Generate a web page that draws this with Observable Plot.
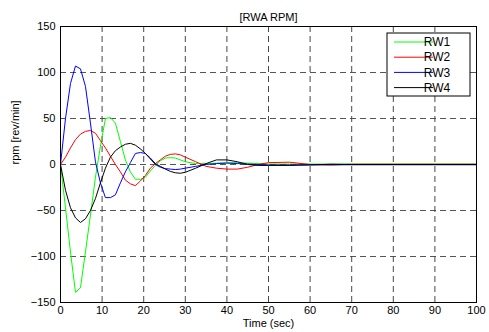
<!DOCTYPE html>
<html>
<head>
<meta charset="utf-8">
<script src="https://cdn.jsdelivr.net/npm/d3@7"></script>
<script src="https://cdn.jsdelivr.net/npm/@observablehq/plot@0.6"></script>
<style>
  html, body { margin: 0; padding: 0; background: #fff; }
  svg { font-family: "Liberation Sans", Arial, sans-serif; }
</style>
</head>
<body>
<div id="chart"></div>
<script>
const time = [0,1.2,2.4,3.6,4.8,6,7.2,8.4,9.6,10.8,12,13.2,14.4,15.6,16.8,18,19.2,20.4,21.6,22.8,24,25.2,26.4,27.6,28.8,30,32.5,35,37.5,40,42.5,45,47.5,50,55,60,65,70,80,90,100];
const rw1 = [0,-47,-95,-139,-134,-95,-55,-14,20,50, 51,45,25,5,-8,-16,-16,-14,-7,-1, 4,7,7.5,7,5,3, 1,1,1.5,2,2,1.5,1,0.5, 0.5,0.5,0.5,0.5,0.5,0.5,0.5];
const rw2 = [0,8,18,27,33,36,37,34,26,18, 9,0,-8,-17,-21,-23,-18,-12,-4,1, 5,9,11,11.5,10.5,8, 3,-2,-4,-5,-5,-3,0,2, 2.5,0,-0.5,0.3,0.3,0.3,0.3];
const rw3 = [0,50,88,107,104,85,45,3,-20,-36, -36,-33,-20,-8,2,12,13,12,6,0, -3,-4.5,-5,-5.5,-5,-4, -2,0,1,1.5,1,0.5,0,-0.5, -0.5,-0.3,-0.3,-0.3,-0.3,-0.3,-0.3];
const rw4 = [0,-28,-47,-58,-63,-59,-50,-37,-20,-4, 8,15,19,22,23,21,17,12,7,1, -2,-5,-7.5,-9,-9.5,-8.5, -4,1,5,5,3,0,-1,-1, -1,-0.5,0.3,0,0,0,0];
const seriesNames = ["RW1","RW2","RW3","RW4"];
const seriesColors = ["#00ff00","#ff0000","#0000ff","#000000"];
const xTicks = [0,10,20,30,40,50,60,70,80,90,100];
const yTicks = [-150,-100,-50,0,50,100,150];
const titleText = "[RWA RPM]";
const xLabel = "Time (sec)";
const yLabel = "rpm [rev/min]";

const seriesValues = [rw1, rw2, rw3, rw4];
const rows = seriesNames.flatMap((name, i) => time.map((t, j) => ({series: name, t, v: seriesValues[i][j]})));

const W = 489, H = 332;
const chart = Plot.plot({
  width: W, height: H,
  marginLeft: 60, marginRight: 13, marginTop: 26, marginBottom: 30,
  style: {fontFamily: '"Liberation Sans", Arial, sans-serif', fontSize: "11px", background: "#fff", color: "#000"},
  x: {domain: [0, 100], ticks: xTicks},
  y: {domain: [-150, 150], ticks: yTicks},
  color: {domain: seriesNames, range: seriesColors},
  marks: [
    Plot.gridX(xTicks.slice(1, -1), {stroke: "#333", strokeOpacity: 0.9, strokeDasharray: "6,4", strokeWidth: 1}),
    Plot.gridY(yTicks.slice(1, -1), {stroke: "#444", strokeOpacity: 0.9, strokeDasharray: "6,4", strokeWidth: 1}),
    Plot.line(rows, {x: "t", y: "v", z: "series", stroke: "series", strokeWidth: 1}),
    Plot.frame({stroke: "#000", strokeWidth: 1}),
    Plot.axisX(xTicks, {tickSize: 0, tickPadding: 4, label: null, fontSize: 11}),
    Plot.axisY(yTicks, {tickSize: 0, tickPadding: 5, label: null, fontSize: 11}),
    Plot.text([titleText], {frameAnchor: "top", dy: -13, fontSize: 11, fill: "#000"}),
    Plot.text([xLabel], {frameAnchor: "bottom", dy: 24, fontSize: 11, fill: "#000"}),
    Plot.text([yLabel], {frameAnchor: "left", dx: -45, rotate: -90, fontSize: 11, fill: "#000"})
  ]
});
document.getElementById("chart").appendChild(chart);

// Legend box (top right, inside the frame)
const svg = d3.select(chart);
const lg = svg.append("g").attr("transform", "translate(387,33)");
lg.append("rect").attr("width", 83).attr("height", 63).attr("fill", "#fff").attr("stroke", "#000").attr("stroke-width", 1);
seriesNames.forEach((name, i) => {
  const y = 9 + i * 15.2;
  lg.append("line").attr("x1", 7).attr("x2", 46).attr("y1", y).attr("y2", y).attr("stroke", seriesColors[i]).attr("stroke-width", 1);
  lg.append("text").attr("x", 50).attr("y", y).attr("dy", "0.35em").attr("font-size", 12).attr("fill", "#000").text(name);
});
</script>
</body>
</html>
